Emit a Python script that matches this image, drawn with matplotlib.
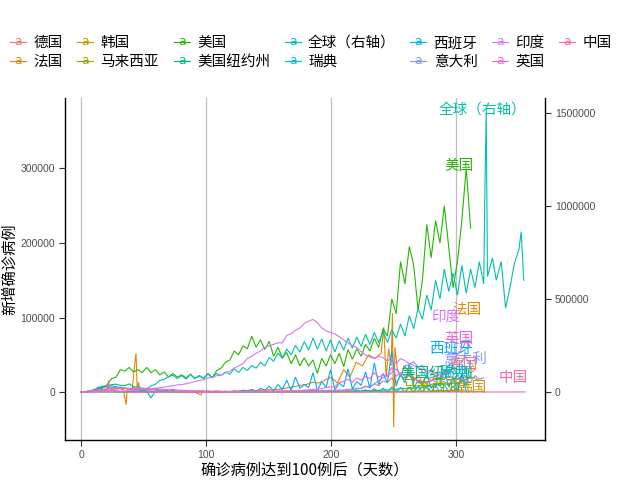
import numpy as np
import matplotlib
matplotlib.use('Agg')
import matplotlib.pyplot as plt
from matplotlib.lines import Line2D
from matplotlib.text import Text
from matplotlib.legend_handler import HandlerBase

plt.rcParams['font.family'] = ['Noto Sans CJK SC', 'DejaVu Sans']

# ---------------- data (new daily cases) ----------------
names = ['德国', '法国', '韩国', '马来西亚', '美国', '美国纽约州', '全球（右轴）',
         '瑞典', '西班牙', '意大利', '印度', '英国', '中国']
colors = ['#F8766D', '#E18A00', '#BE9C00', '#8CAB00', '#24B700', '#00BE70', '#00C1AB',
          '#00BBDA', '#00ACFC', '#8B93FF', '#D575FE', '#F962DD', '#FF65AC']

STEP = 3.5  # sampling interval (days) of the regularly sampled series

germany = [30, 200, 500, 1000, 1500, 3000, 4500, 6000, 5500, 6500, 5000, 4000, 3500, 2500, 2000, 1500,
           1300, 1000, 900, 800, 700, 500, 600, 400, 500, 300, 400, 350, 500, 400, 600, 1500, 800, 500,
           400, 300, 450, 400, 600, 500, 800, 900, 1000, 1100, 1200, 1400, 1500, 1700, 1300, 1500, 1400,
           1200, 1800, 2000, 1400, 2100, 1800, 2500, 1900, 2800, 2500, 4000, 3500, 5000, 4700, 7000,
           6000, 11000, 8700, 15000, 13000, 19000, 12000, 22000, 16000, 23000, 14000, 23000, 12000,
           22000, 14000, 23000, 18000, 30000, 24000, 33000, 22000, 15000, 12000, 25000, 31000]

france_days = [0, 5, 10, 15, 20, 25, 30, 34, 36, 37, 38, 41, 43, 44, 45, 46, 47, 50, 55, 60, 70, 80,
               90, 96, 97, 98, 100, 110, 120, 130, 140, 150, 160, 170, 175, 180, 185, 190, 195, 200,
               205, 210, 215, 220, 225, 230, 235, 240, 242, 244, 246, 248, 249, 250, 251, 253, 256,
               258, 262, 266, 270, 274, 278, 282, 286, 290, 294, 298, 302, 306, 310, 314, 318]
france = [100, 1000, 2500, 4000, 7000, 4500, 5000, 3000, -17000, 5000, 2000, 4000, 39000, 52000, 1500,
          13000, 2500, 2000, 1000, 500, 700, 300, 500, -4000, 2500, 500, 600, 500, 700, 1500, 2000,
          3000, 4000, 7000, 9000, 10000, 13000, 12000, 16000, 20000, 12000, 30000, 20000, 40000,
          35000, 50000, 45000, 52000, 87000, 20000, 58000, 35000, 106000, -47000, 60000, 30000,
          20000, 35000, 28000, 20000, 12000, 14000, 9000, 11000, 12000, 14000, 11000, 15000, 12000,
          20000, 18000, 20000, 15000]

korea_days = [0, 7, 14, 21, 28, 35, 42, 49, 56, 63, 70, 77, 84, 91, 98, 105, 112, 119, 126, 133, 140,
              147, 154, 161, 168, 175, 182, 189, 196, 203, 210, 217, 224, 231, 238, 245, 252, 259,
              266, 273, 280, 287, 294, 301, 308, 315, 322]
korea = [100, 500, 600, 250, 100, 90, 50, 30, 10, 10, 30, 30, 40, 50, 40, 50, 40, 60, 40, 40, 30, 30,
         50, 100, 200, 300, 250, 150, 120, 100, 80, 70, 90, 100, 120, 110, 150, 230, 350, 500, 600,
         650, 900, 1000, 1100, 900, 700]

malaysia_days = [0, 7, 14, 21, 28, 35, 42, 49, 56, 63, 70, 77, 84, 91, 98, 105, 112, 119, 126, 133,
                 140, 147, 154, 161, 168, 175, 182, 189, 196, 203, 210, 217, 224, 231, 238, 245, 252,
                 259, 266, 273, 280, 287, 294, 301]
malaysia = [50, 150, 200, 150, 170, 100, 70, 40, 50, 30, 60, 20, 10, 10, 5, 5, 5, 10, 5, 10, 10, 10,
            15, 10, 20, 50, 100, 250, 300, 600, 700, 800, 900, 1000, 800, 900, 1200, 1000, 1100, 1000,
            1200, 1500, 2000, 2600]

usa = [30, 100, 300, 900, 3000, 6000, 10000, 18000, 20000, 30000, 28000, 33000, 27000, 30000, 26000,
       33000, 26000, 30000, 23000, 27000, 20000, 25000, 20000, 23000, 19000, 24000, 18000, 22000,
       18000, 25000, 19000, 29000, 32000, 40000, 43000, 55000, 50000, 62000, 58000, 75000, 60000,
       70000, 57000, 68000, 48000, 60000, 46000, 53000, 38000, 50000, 35000, 46000, 35000, 43000,
       25000, 45000, 35000, 50000, 38000, 52000, 34000, 57000, 44000, 58000, 48000, 64000, 55000,
       72000, 60000, 85000, 75000, 125000, 105000, 175000, 145000, 195000, 170000, 110000, 150000,
       225000, 180000, 230000, 200000, 250000, 195000, 140000, 175000, 230000, 300000, 220000]

newyork = [100, 400, 1000, 3000, 5000, 7000, 7500, 10000, 10500, 9000, 8500, 11000, 7000, 6500, 5000,
           4500, 3000, 4000, 2500, 2200, 1500, 2000, 1200, 1500, 1000, 1100, 800, 900, 700, 800, 600,
           700, 600, 700, 500, 800, 600, 700, 600, 700, 500, 700, 600, 700, 600, 700, 600, 700, 600,
           800, 700, 800, 600, 900, 700, 1000, 800, 1100, 1000, 1300, 1100, 1500, 1200, 1600, 1400,
           2000, 1600, 2300, 2000, 3000, 2500, 3900, 3500, 5000, 4500, 6000, 5200, 7000, 6000, 8000,
           7500, 10000, 9000, 11000, 10000, 12000, 11000, 15000, 17000, 21000]

world_days = [0, 3.5, 7, 10.5, 14, 17.5, 21, 24.5, 28, 31.5, 35, 38.5, 42, 45.5, 49, 52.5, 56, 59.5,
              63, 66.5, 70, 73.5, 77, 80.5, 84, 87.5, 91, 94.5, 98, 101.5, 105, 108.5, 112, 115.5,
              119, 122.5, 126, 129.5, 133, 136.5, 140, 143.5, 147, 150.5, 154, 157.5, 161, 164.5,
              168, 171.5, 175, 178.5, 182, 185.5, 189, 192.5, 196, 199.5, 203, 206.5, 210, 213.5,
              217, 220.5, 224, 227.5, 231, 234.5, 238, 241.5, 245, 248.5, 252, 255.5, 259, 262.5,
              266, 269.5, 273, 276.5, 280, 283.5, 287, 290.5, 294, 297.5, 301, 304.5, 308, 311.5,
              315, 318.5, 322, 323, 324, 325, 329, 332, 336, 339.5, 343, 346.5, 350, 352, 354]
world = [600, 2000, 2100, 2700, 3900, 3000, 15200, 4000, 1800, 600, 1500, 2300, 3000, 4000, 8000,
         16000, 33000, 42000, 62000, 68000, 82000, 90000, 72000, 88000, 70000, 95000, 72000, 88000,
         74000, 96000, 78000, 100000, 88000, 108000, 95000, 125000, 105000, 132000, 115000, 142000,
         128000, 160000, 140000, 185000, 165000, 210000, 180000, 230000, 200000, 250000, 215000,
         270000, 225000, 290000, 230000, 285000, 220000, 280000, 215000, 275000, 225000, 290000,
         235000, 295000, 245000, 310000, 255000, 320000, 265000, 325000, 265000, 335000, 290000,
         365000, 300000, 410000, 340000, 450000, 390000, 520000, 440000, 600000, 500000, 660000,
         540000, 640000, 520000, 680000, 530000, 660000, 560000, 700000, 580000, 1100000, 1500000,
         620000, 720000, 600000, 700000, 450000, 560000, 690000, 760000, 860000, 600000]

sweden = [50, 150, 100, 300, 200, 400, 300, 500, 400, 700, 300, 600, 500, 800, 400, 700, 300, 600,
          500, 700, 300, 800, 500, 900, 600, 1200, 500, 1500, 700, 1400, 300, 1000, 400, 800, 200,
          500, 100, 400, 100, 300, 0, 300, 0, 250, 0, 250, 0, 200, 0, 300, 0, 300, 0, 400, 0, 600, 0,
          800, 0, 1000, 0, 1200, 0, 1800, 0, 3000, 0, 4500, 0, 5000, 0, 7000, 0, 6000, 0, 6000, 0,
          7000, 0, 8000, 0, 9000, 0, 10000, 0, 8000, 0, 24000, 0]

spain = [100, 500, 1500, 3000, 6500, 8000, 7500, 8200, 7000, 6000, 5000, 4500, 5500, 3000, 4000,
         1000, -8000, 1500, 1000, 800, 500, 600, 400, 300, 500, 300, 350, 400, 300, 500, 400, 600,
         400, 900, 600, 1500, 800, 2500, 1500, 3500, 1000, 5000, 2000, 8000, 1500, 10000, 3000,
         16000, 2000, 20000, 5000, 10000, 6000, 26000, 2000, 14000, 6000, 30000, 3000, 12000, 7000,
         31000, 4000, 14000, 9000, 27000, 5000, 39000, 10000, 25000, 12000, 55000, 8000, 25000,
         12000, 38000, 6000, 15000, 10000, 25000, 5000, 12000, 9000, 28000, 7000, 20000, 2000,
         25000, 8000, 42000]

italy = [100, 250, 500, 1200, 2000, 3500, 4200, 5500, 6500, 5200, 5000, 4500, 4000, 3800, 4500, 3000,
         3500, 2500, 1800, 2000, 1400, 1000, 800, 600, 500, 400, 300, 350, 250, 300, 200, 250, 200,
         230, 180, 200, 150, 250, 250, 300, 200, 300, 250, 400, 300, 500, 400, 600, 800, 1100, 1000,
         1400, 1200, 1600, 1300, 1600, 1400, 1700, 1500, 1900, 1600, 2500, 2800, 4000, 5000, 8000,
         7300, 11000, 15000, 19000, 21000, 26000, 31000, 22000, 35000, 37000, 40900, 33000, 36000,
         23000, 29000, 20000, 24000, 19000, 16000, 17000, 18000, 19000, 12000, 14000, 22000, 17000,
         19000]

india = [100, 80, 150, 100, 400, 500, 600, 900, 1000, 1200, 1400, 1600, 2000, 2500, 3500, 3700, 4000,
         5000, 6000, 6600, 7500, 8500, 9500, 10000, 11000, 12500, 14000, 15500, 16500, 19000, 19500,
         22000, 22500, 26000, 28000, 32000, 35000, 38000, 45000, 48000, 52000, 55000, 60000, 62000,
         64000, 66000, 66000, 76000, 78000, 83000, 86000, 92000, 95000, 97500, 93000, 86000, 82000,
         80000, 78000, 74000, 70000, 66000, 62000, 60000, 54000, 50000, 47000, 45000, 48000, 46000,
         42000, 45000, 38000, 45000, 42000, 38000, 36000, 32000, 31000, 28000, 30000, 25000, 23000,
         24000, 20000, 19000, 18000]

uk = [100, 60, 200, 400, 650, 1000, 1500, 2500, 4000, 4500, 5200, 5000, 4600, 5500, 4500, 5000, 4000,
      4400, 3900, 3500, 3000, 3400, 2600, 2400, 2000, 1800, 1600, 1500, 1300, 1200, 1100, 1000, 900,
      800, 700, 650, 600, 700, 600, 750, 700, 800, 900, 1000, 800, 1000, 1100, 1200, 1500, 1300,
      1800, 2500, 2900, 3500, 4000, 4500, 6000, 7000, 6900, 12800, 14000, 17000, 13000, 19000,
      16000, 21000, 18000, 26000, 20000, 23000, 22000, 33000, 21000, 26000, 21000, 25000, 18000,
      16000, 14000, 12000, 16000, 14000, 20000, 25000, 36000, 35000, 50000, 58000, 68000, 60000]

china_days = [0, 3.5, 7, 10.5, 14, 17.5, 21, 22, 23, 24.5, 28, 31.5, 35, 38.5, 42, 49, 56, 63, 70,
              80, 90, 100, 120, 140, 160, 180, 200, 220, 240, 260, 280, 300, 320, 340, 355]
china = [70, 400, 1500, 2000, 3500, 3000, 2000, 15100, 5000, 2600, 2000, 500, 300, 200, 100, 20, 40,
         50, 80, 50, 20, 10, 20, 30, 40, 100, 30, 20, 20, 20, 30, 20, 30, 40, 100]

WORLD_SCALE = 4  # global series is drawn against the right axis (left = right / 4)


def reg_days(vals):
    return np.arange(len(vals)) * STEP


series = [
    (reg_days(germany), germany),
    (france_days, france),
    (korea_days, korea),
    (malaysia_days, malaysia),
    (reg_days(usa), usa),
    (reg_days(newyork), newyork),
    (world_days, np.array(world) / WORLD_SCALE),
    (reg_days(sweden), sweden),
    (reg_days(spain), spain),
    (reg_days(italy), italy),
    (reg_days(india), india),
    (reg_days(uk), uk),
    (china_days, china),
]

x_ticks = [0, 100, 200, 300]
left_ticks = [0, 100000, 200000, 300000]
right_ticks = [0, 500000, 1000000, 1500000]

# ---------------- figure ----------------
fig = plt.figure(figsize=(6.4, 4.8), dpi=100)
ax = fig.add_axes([65 / 640, 40 / 480, 480 / 640, 342 / 480])
ax2 = ax.twinx()

for (d, v), c in zip(series, colors):
    ax.plot(d, v, color=c, lw=0.8, solid_joinstyle='miter')

ax.set_xlim(-12.8, 371)
ylo, yhi = -64400, 394600
ax.set_ylim(ylo, yhi)
ax2.set_ylim(ylo * WORLD_SCALE, yhi * WORLD_SCALE)

# labels at the end of each series, at the height of its maximum
for (name, (d, v), c) in zip(names, series, colors):
    v = np.asarray(v)
    ax.annotate(name, xy=(d[-1], v.max()), xytext=(2, 2), textcoords='offset points',
                ha='right', va='center', color=c, fontsize=10.5)

ax.grid(axis='x', color='#BEBEBE', lw=0.9)
ax.grid(axis='y', visible=False)
ax.set_axisbelow(True)

ax.set_xticks(x_ticks)
ax.set_yticks(left_ticks)
ax.set_yticklabels([str(t) for t in left_ticks])
ax2.set_yticks(right_ticks)
ax2.set_yticklabels([str(t) for t in right_ticks])

tick_font = dict(family=['Liberation Sans', 'DejaVu Sans'], size=7.5)
for a in (ax, ax2):
    a.tick_params(colors='#333333', length=4, width=0.8, labelcolor='#4D4D4D', pad=3)
    for lab in a.get_xticklabels() + a.get_yticklabels():
        lab.set_fontfamily(tick_font['family'])
        lab.set_fontsize(tick_font['size'])

for s in ['top', 'right']:
    ax.spines[s].set_visible(False)
for s in ['top', 'left', 'bottom']:
    ax2.spines[s].set_visible(False)
for sp in [ax.spines['left'], ax.spines['bottom'], ax2.spines['right']]:
    sp.set_color('black')
    sp.set_linewidth(1.0)

ax.set_xlabel('确诊病例达到100例后（天数）', fontsize=11, labelpad=1)
ax.set_ylabel('新增确诊病例', fontsize=11, labelpad=2)


# ---------------- legend with "a"-on-a-line keys ----------------
class HandlerTextLine(HandlerBase):
    def create_artists(self, legend, orig_handle, xdescent, ydescent, width, height, fontsize, trans):
        c = orig_handle.get_color()
        y = height / 2 - ydescent
        line = Line2D([-xdescent, width - xdescent], [y, y], color=c, lw=0.8, transform=trans)
        txt = Text(width / 2 - xdescent, y, 'a', color=c, ha='center', va='center',
                   fontsize=fontsize * 0.85, family='DejaVu Sans', transform=trans)
        return [line, txt]


handles = [Line2D([], [], color=c) for c in colors]
fig.legend(handles, names, loc='upper left', bbox_to_anchor=(10 / 640, 1 - 36 / 480),
           ncol=7, frameon=False, fontsize=10.5, handlelength=1.1, handletextpad=0.5,
           columnspacing=1.0, labelspacing=0.32, borderpad=0, borderaxespad=0,
           handler_map={Line2D: HandlerTextLine()})

fig.savefig('out.png', dpi=100)
